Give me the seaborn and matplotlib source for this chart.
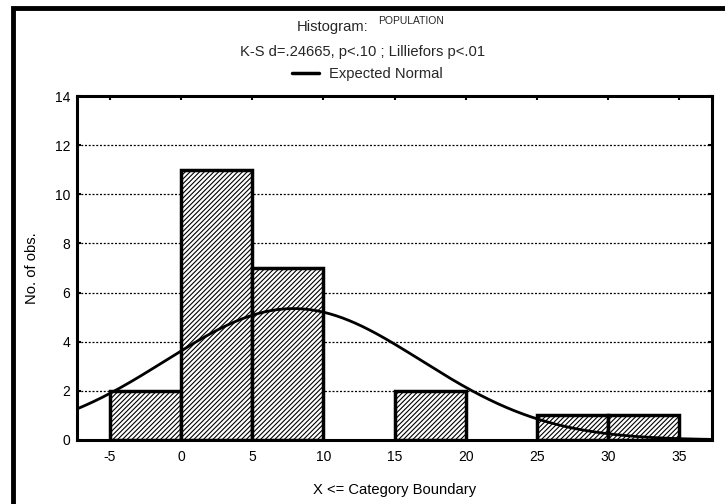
#!/usr/bin/env python3
"""Histogram of POPULATION with expected normal curve (Statistica style)."""

import numpy as np
import pandas as pd
import matplotlib
matplotlib.use("Agg")
import matplotlib.pyplot as plt
import seaborn as sns
from matplotlib.patches import Rectangle
from matplotlib.lines import Line2D

# Data
bin_edges = [-5, 0, 5, 10, 15, 20, 25, 30, 35]
counts = [2, 11, 7, 0, 2, 0, 1, 1]
x_ticks = [-5, 0, 5, 10, 15, 20, 25, 30, 35]
y_ticks = [0, 2, 4, 6, 8, 10, 12, 14]
fit_mean = 7.9
fit_sd = 8.95

sns.set_theme(style="white")
plt.rcParams['font.family'] = ['Liberation Sans', 'DejaVu Sans']
plt.rcParams['hatch.linewidth'] = 0.8
plt.rcParams['axes.unicode_minus'] = False

fig = plt.figure(figsize=(7.25, 5.04), dpi=100)
ax = fig.add_axes([0.1062, 0.127, 0.876, 0.6825])

mids = [(a + b) / 2 for a, b in zip(bin_edges[:-1], bin_edges[1:])]
df = pd.DataFrame({"x": mids, "n": counts})
sns.histplot(data=df, x="x", weights="n", bins=bin_edges, ax=ax,
             color="white", edgecolor="black", linewidth=2.5, alpha=1)
for p in ax.patches:
    if p.get_height() > 0:
        p.set_hatch("/" * 7)
    else:
        p.set_linewidth(0)

# Expected normal counts
xs = np.linspace(-7.3, 37.3, 300)
binw = bin_edges[1] - bin_edges[0]
n_total = sum(counts)
expected = n_total * binw * np.exp(-0.5 * ((xs - fit_mean) / fit_sd) ** 2) / (fit_sd * np.sqrt(2 * np.pi))
sns.lineplot(x=xs, y=expected, color="black", linewidth=2.0, ax=ax)

ax.set_xlim(-7.3, 37.3)
ax.set_ylim(0, 14)
for y in y_ticks[1:-1]:
    ax.axhline(y, color="black", linestyle=(0, (1.6, 1.4)), linewidth=0.9, zorder=0.5)

ax.set_xticks(x_ticks)
ax.set_yticks(y_ticks)
ax.tick_params(axis="x", direction="in", length=3, width=1.5, top=True, bottom=False,
               labelsize=10, pad=7, colors="black")
ax.tick_params(axis="y", direction="in", length=3, width=1.5, left=True, right=True,
               labelsize=10, pad=5, colors="black")
for s in ax.spines.values():
    s.set_color("black")
    s.set_linewidth(2.2)
    s.set_visible(True)

ax.set_xlabel("X <= Category Boundary", fontsize=10.6, labelpad=14, color="black")
ax.set_ylabel("No. of obs.", fontsize=10.6, labelpad=11, color="black")

# Titles
fig.text(0.459, 0.946, "Histogram:", fontsize=10.6, ha="center", va="center")
fig.text(0.521, 0.958, "POPULATION", fontsize=7.5, ha="left", va="center")
fig.text(0.5, 0.896, "K-S d=.24665, p<.10 ; Lilliefors p<.01", fontsize=10.6,
         ha="center", va="center")
handle = Line2D([], [], color="black", linewidth=2.5)
fig.legend([handle], ["Expected Normal"], loc="center", bbox_to_anchor=(0.507, 0.853),
           frameon=False, fontsize=10.6, handlelength=1.8, handletextpad=0.7)

# Outer frame (cropped at right/bottom)
fig.patches.append(Rectangle((0.018, -0.1), 1.2, 1.084, transform=fig.transFigure,
                             fill=False, edgecolor="black", linewidth=3.5))

fig.savefig("out.png", dpi=100)
